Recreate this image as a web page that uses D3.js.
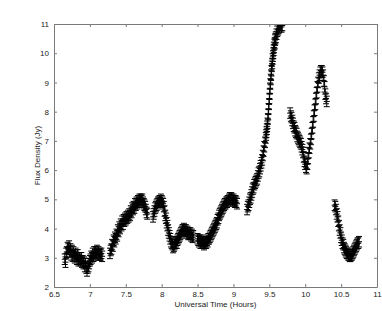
<!DOCTYPE html>
<html>
<head>
<meta charset="utf-8">
<script src="https://cdn.jsdelivr.net/npm/d3@7"></script>
<style>
	html, body { margin: 0; padding: 0; background: #fff; }
	svg { display: block; font-family: "Liberation Sans", Arial, sans-serif; }
</style>
</head>
<body>
<div id="chart"></div>
<script>
// axis ticks
var xTicks = [6.5, 7, 7.5, 8, 8.5, 9, 9.5, 10, 10.5, 11];
var yTicks = [2, 3, 4, 5, 6, 7, 8, 9, 10, 11];

// flux error (Jy), same for all samples
var fluxErr = 0.18;

// observed segments, [time (h), flux (Jy)]
var seg1 = [[6.65,2.95],[6.66,2.85],[6.67,3.15],[6.68,3.2],[6.69,3.35],[6.70,3.3],[6.71,3.4],[6.72,3.2],[6.73,3.3],[6.74,3.1],[6.75,3.25],[6.76,3.05],[6.77,3.2],[6.78,3.1],[6.79,3.0],[6.80,3.15],[6.81,3.05],[6.82,2.95],[6.83,3.1],[6.84,2.9],[6.85,2.95],[6.86,3.0],[6.87,2.9],[6.88,3.0],[6.89,2.85],[6.90,2.9],[6.91,2.8],[6.92,2.85],[6.93,2.7],[6.94,2.8],[6.95,2.65],[6.96,2.55],[6.97,2.65],[6.98,2.7],[6.99,2.8],[7.00,2.9],[7.01,2.95],[7.02,3.05],[7.03,3.0],[7.04,3.15],[7.05,3.05],[7.06,3.2],[7.07,3.1],[7.08,3.2],[7.09,3.15],[7.10,3.25],[7.11,3.1],[7.12,3.2],[7.13,3.1],[7.14,3.15],[7.15,3.1],[7.16,3.15],[7.17,3.05]];
var seg2 = [[7.28,3.15],[7.29,3.25],[7.30,3.3],[7.31,3.45],[7.32,3.4],[7.33,3.6],[7.34,3.55],[7.35,3.7],[7.36,3.65],[7.37,3.8],[7.38,3.75],[7.39,3.95],[7.40,3.9],[7.41,4.05],[7.42,4.0],[7.43,4.15],[7.44,4.1],[7.45,4.25],[7.46,4.15],[7.47,4.3],[7.48,4.25],[7.49,4.35],[7.50,4.3],[7.51,4.4],[7.52,4.35],[7.53,4.45],[7.54,4.4],[7.55,4.5],[7.56,4.45],[7.57,4.6],[7.58,4.55],[7.59,4.7],[7.60,4.65],[7.61,4.75],[7.62,4.7],[7.63,4.85],[7.64,4.8],[7.65,4.9],[7.66,4.85],[7.67,4.95],[7.68,4.9],[7.69,5.0],[7.70,4.95],[7.71,5.0],[7.72,4.95],[7.73,5.0],[7.74,4.9],[7.75,4.85],[7.76,4.8],[7.77,4.75],[7.78,4.65],[7.79,4.55],[7.80,4.5]];
var seg3 = [[7.88,4.4],[7.89,4.5],[7.90,4.6],[7.91,4.7],[7.92,4.75],[7.93,4.8],[7.94,4.85],[7.95,4.9],[7.96,4.9],[7.97,4.95],[7.98,4.95],[7.99,5.0],[8.00,4.95],[8.01,4.9],[8.02,4.85],[8.03,4.75],[8.04,4.6],[8.05,4.45],[8.06,4.35],[8.07,4.2],[8.08,4.1],[8.09,3.95],[8.10,3.85],[8.11,3.75],[8.12,3.65],[8.13,3.55],[8.14,3.5],[8.15,3.45],[8.16,3.35],[8.17,3.4],[8.18,3.45],[8.19,3.5],[8.20,3.55],[8.21,3.5],[8.22,3.6],[8.23,3.65],[8.24,3.7],[8.25,3.75],[8.26,3.8],[8.27,3.85],[8.28,3.9],[8.29,3.95],[8.30,3.95],[8.31,4.0],[8.32,3.95],[8.33,3.9],[8.34,3.95],[8.35,3.85],[8.36,3.9],[8.37,3.8],[8.38,3.85],[8.39,3.8],[8.40,3.85],[8.41,3.75],[8.42,3.8],[8.43,3.7],[8.44,3.75]];
var seg4 = [[8.50,3.65],[8.51,3.6],[8.52,3.55],[8.53,3.6],[8.54,3.5],[8.55,3.6],[8.56,3.55],[8.57,3.5],[8.58,3.55],[8.59,3.45],[8.60,3.5],[8.61,3.55],[8.62,3.5],[8.63,3.6],[8.64,3.55],[8.65,3.65],[8.66,3.65],[8.67,3.7],[8.68,3.75],[8.69,3.8],[8.70,3.85],[8.71,3.9],[8.72,3.95],[8.73,4.0],[8.74,4.05],[8.75,4.1],[8.76,4.15],[8.77,4.2],[8.78,4.3],[8.79,4.35],[8.80,4.45],[8.81,4.5],[8.82,4.55],[8.83,4.6],[8.84,4.65],[8.85,4.7],[8.86,4.75],[8.87,4.8],[8.88,4.85],[8.89,4.85],[8.90,4.9],[8.91,4.9],[8.92,4.95],[8.93,4.95],[8.94,5.0],[8.95,5.05],[8.96,5.0],[8.97,5.05],[8.98,5.0],[8.99,4.95],[9.00,5.0],[9.01,4.95],[9.02,4.9],[9.03,4.95],[9.04,4.9],[9.05,4.85]];
var seg5 = [[9.19,4.65],[9.20,4.75],[9.21,4.8],[9.22,4.9],[9.23,5.0],[9.24,5.05],[9.25,5.15],[9.26,5.25],[9.27,5.35],[9.28,5.4],[9.29,5.5],[9.30,5.55],[9.31,5.6],[9.32,5.65],[9.33,5.7],[9.34,5.8],[9.35,5.9],[9.36,5.95],[9.37,6.05],[9.38,6.15],[9.39,6.25],[9.40,6.35],[9.41,6.5],[9.42,6.65],[9.43,6.8],[9.44,6.95],[9.45,7.1],[9.455,7.2],[9.46,7.3],[9.465,7.4],[9.47,7.5],[9.475,7.6],[9.48,7.75],[9.485,7.9],[9.49,8.1],[9.495,8.25],[9.50,8.45],[9.505,8.6],[9.51,8.8],[9.515,8.95],[9.52,9.1],[9.525,9.25],[9.53,9.4],[9.535,9.55],[9.54,9.65],[9.545,9.8],[9.55,9.9],[9.555,10.0],[9.56,10.1],[9.565,10.2],[9.57,10.3],[9.575,10.35],[9.58,10.45],[9.585,10.5],[9.59,10.55],[9.60,10.65],[9.61,10.75],[9.62,10.8],[9.63,10.85],[9.64,10.9],[9.65,10.95],[9.66,10.95],[9.67,10.9],[9.68,10.95]];
var seg6 = [[9.79,7.95],[9.80,7.85],[9.81,7.8],[9.82,7.7],[9.83,7.6],[9.84,7.5],[9.85,7.45],[9.86,7.35],[9.87,7.3],[9.88,7.25],[9.89,7.15],[9.90,7.1],[9.91,7.05],[9.92,7.0],[9.93,6.95],[9.94,6.9],[9.95,6.8],[9.96,6.7],[9.97,6.6],[9.98,6.45],[9.99,6.3],[10.00,6.2],[10.01,6.1],[10.02,6.05],[10.03,6.2],[10.04,6.4],[10.05,6.6],[10.06,6.75],[10.07,6.9],[10.08,7.05],[10.09,7.25],[10.10,7.45],[10.11,7.65],[10.12,7.85],[10.13,8.05],[10.14,8.25],[10.15,8.45],[10.16,8.65],[10.17,8.85],[10.18,9.0],[10.19,9.15],[10.20,9.25],[10.21,9.35],[10.22,9.4],[10.23,9.4],[10.24,9.35],[10.25,9.25],[10.26,9.05],[10.27,8.85],[10.28,8.6],[10.29,8.45],[10.30,8.35]];
var seg7 = [[10.41,4.8],[10.42,4.75],[10.43,4.65],[10.44,4.5],[10.45,4.4],[10.46,4.25],[10.47,4.1],[10.48,3.95],[10.49,3.85],[10.50,3.7],[10.51,3.6],[10.52,3.5],[10.53,3.45],[10.54,3.35],[10.55,3.3],[10.56,3.25],[10.57,3.2],[10.58,3.15],[10.59,3.15],[10.60,3.1],[10.61,3.1],[10.62,3.05],[10.63,3.05],[10.64,3.1],[10.65,3.1],[10.66,3.15],[10.67,3.2],[10.68,3.25],[10.69,3.3],[10.70,3.35],[10.71,3.4],[10.72,3.45],[10.73,3.5],[10.74,3.5],[10.75,3.55]];

var segments = [seg1, seg2, seg3, seg4, seg5, seg6, seg7];

var width = 382, height = 311;
var margin = { top: 24, right: 5, bottom: 24, left: 54 };
var axisColor = '#7a7a7a', textColor = '#222';

var svg = d3.select('#chart').append('svg')
	.attr('width', width)
	.attr('height', height);

var x = d3.scaleLinear().domain([6.5, 11]).range([margin.left, width - margin.right]);
var y = d3.scaleLinear().domain([2, 11]).range([height - margin.bottom, margin.top]);

// clip marks to the axes box
svg.append('clipPath').attr('id', 'plot-clip')
	.append('rect')
	.attr('x', x(6.5)).attr('y', y(11))
	.attr('width', x(11) - x(6.5)).attr('height', y(2) - y(11));

// error bar path: vertical bar, two caps and the '+' marker
var cap = 3;
function barPath(d) {
	var cx = x(d[0]), lo = y(d[1] - fluxErr), hi = y(d[1] + fluxErr), c = y(d[1]);
	return 'M' + cx + ',' + lo + 'V' + hi +
		'M' + (cx - cap) + ',' + hi + 'H' + (cx + cap) +
		'M' + (cx - cap) + ',' + lo + 'H' + (cx + cap) +
		'M' + (cx - cap) + ',' + c + 'H' + (cx + cap);
}

var marks = svg.append('g').attr('clip-path', 'url(#plot-clip)');
segments.forEach(function (seg) {
	marks.append('g').selectAll('path')
		.data(seg)
		.enter().append('path')
		.attr('d', barPath)
		.attr('fill', 'none')
		.attr('stroke', '#000')
		.attr('stroke-width', 1);
});

// axes box with inward ticks on all sides
var tickLen = 3;
function styleAxis(g) {
	g.selectAll('path.domain').attr('stroke', axisColor);
	g.selectAll('line').attr('stroke', axisColor);
	g.selectAll('text').attr('fill', textColor).style('font-size', '8px');
}

svg.append('g')
	.attr('transform', 'translate(0,' + y(2) + ')')
	.call(d3.axisBottom(x).tickValues(xTicks).tickSize(-tickLen).tickPadding(4).tickSizeOuter(0).tickFormat(d3.format('')))
	.call(styleAxis);

svg.append('g')
	.attr('transform', 'translate(0,' + y(11) + ')')
	.call(d3.axisTop(x).tickValues(xTicks).tickSize(-tickLen).tickSizeOuter(0).tickFormat(''))
	.call(styleAxis);

svg.append('g')
	.attr('transform', 'translate(' + x(6.5) + ',0)')
	.call(d3.axisLeft(y).tickValues(yTicks).tickSize(-tickLen).tickPadding(5).tickSizeOuter(0).tickFormat(d3.format('')))
	.call(styleAxis);

svg.append('g')
	.attr('transform', 'translate(' + x(11) + ',0)')
	.call(d3.axisRight(y).tickValues(yTicks).tickSize(-tickLen).tickSizeOuter(0).tickFormat(''))
	.call(styleAxis);

// axis titles
svg.append('text')
	.attr('x', (x(6.5) + x(11)) / 2)
	.attr('y', 307)
	.attr('text-anchor', 'middle')
	.attr('fill', textColor)
	.style('font-size', '8px')
	.text('Universal Time (Hours)');

svg.append('text')
	.attr('transform', 'translate(40,' + (y(2) + y(11)) / 2 + ') rotate(-90)')
	.attr('text-anchor', 'middle')
	.attr('fill', textColor)
	.style('font-size', '8px')
	.text('Flux Density (Jy)');
</script>
</body>
</html>
